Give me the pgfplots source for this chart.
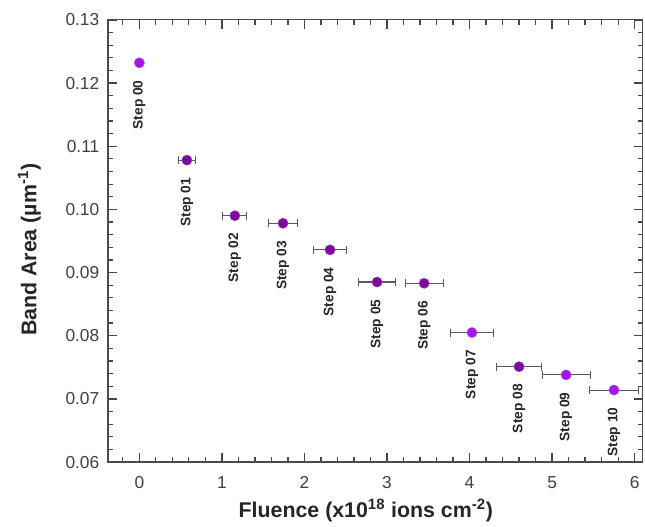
\documentclass[border=0pt]{standalone}
\usepackage{fontspec}
\setmainfont{Liberation Sans}
\usepackage{pgfplots}
\pgfplotsset{compat=1.18}
\usepackage{pgfplotstable}

\definecolor{brightv}{RGB}{165,20,235}
\definecolor{darkv}{RGB}{125,10,160}
\definecolor{errc}{RGB}{90,90,90}
\definecolor{tickc}{RGB}{70,70,70}

\pgfplotstableread{
x y ex lab
0.000 0.1232 0.00 00
4.030 0.0805 0.26 07
5.170 0.0738 0.29 09
5.750 0.0714 0.30 10
}\brightdata

\pgfplotstableread{
x y ex lab
0.576 0.1078 0.10 01
1.157 0.0990 0.145 02
1.740 0.0978 0.18 03
2.310 0.0936 0.20 04
2.880 0.0885 0.22 05
3.450 0.0883 0.23 06
4.600 0.0751 0.27 08
}\darkdata

\begin{document}
\begin{tikzpicture}
\begin{axis}[
  scale only axis,
  width=401pt, height=331.5pt,
  xmin=-0.38, xmax=6.1,
  ymin=0.06, ymax=0.13,
  xtick={0,1,2,3,4,5,6},
  xticklabels={0,1,2,3,4,5,6},
  ytick={0.06,0.07,0.08,0.09,0.10,0.11,0.12,0.13},
  yticklabels={0.06,0.07,0.08,0.09,0.10,0.11,0.12,0.13},
  minor xtick={-0.2,0.2,0.4,0.6,0.8,1.2,1.4,1.6,1.8,2.2,2.4,2.6,2.8,3.2,3.4,3.6,3.8,4.2,4.4,4.6,4.8,5.2,5.4,5.6,5.8},
  minor ytick={0.062,0.064,0.066,0.068,0.072,0.074,0.076,0.078,0.082,0.084,0.086,0.088,0.092,0.094,0.096,0.098,0.102,0.104,0.106,0.108,0.112,0.114,0.116,0.118,0.122,0.124,0.126,0.128},
  tick align=inside,
  major tick length=7pt,
  minor tick length=4pt,
  major tick style={tickc, line width=1pt},
  minor tick style={tickc, line width=0.9pt},
  axis line style={black!70, line width=0.9pt},
  ticklabel style={font=\fontsize{13}{15}\selectfont, text=black!75},
  xticklabel style={yshift=-7pt},
  yticklabel style={xshift=-3pt},
  xlabel={\textbf{Fluence (x10\textsuperscript{18} ions cm\textsuperscript{-2})}},
  ylabel={\textbf{Band Area (µm\textsuperscript{-1})}},
  every axis x label/.style={at={(axis description cs:0.482,-0.109)}, anchor=center, font=\fontsize{16}{18}\selectfont, text=black!85},
  every axis y label/.style={at={(axis description cs:-0.147,0.48)}, anchor=center, rotate=90, font=\fontsize{16}{18}\selectfont, text=black!85},
  point meta=explicit symbolic,
  nodes near coords={Step \pgfplotspointmeta},
  every node near coord/.append style={font=\bfseries\fontsize{10.3}{12}\selectfont, text=black!85, anchor=east, inner sep=0pt, yshift=-13pt, rotate=90},
  clip=false,
]
\path (axis description cs:-0.2019,-0.138) rectangle (axis description cs:1.004,1.045);
\addplot+[only marks, mark=*, mark size=3.8pt, color=errc, mark options={draw=brightv!80!white, fill=brightv},
  error bars/.cd, x dir=both, x explicit,
  error bar style={errc, line width=0.8pt},
  error mark options={rotate=90, errc, mark size=3pt, line width=0.8pt}]
  table[x=x, y=y, x error=ex, meta=lab] {\brightdata};
\addplot+[only marks, mark=*, mark size=3.8pt, color=errc, mark options={draw=darkv!80!white, fill=darkv},
  error bars/.cd, x dir=both, x explicit,
  error bar style={errc, line width=0.8pt},
  error mark options={rotate=90, errc, mark size=3pt, line width=0.8pt}]
  table[x=x, y=y, x error=ex, meta=lab] {\darkdata};
\end{axis}
\end{tikzpicture}
\end{document}
